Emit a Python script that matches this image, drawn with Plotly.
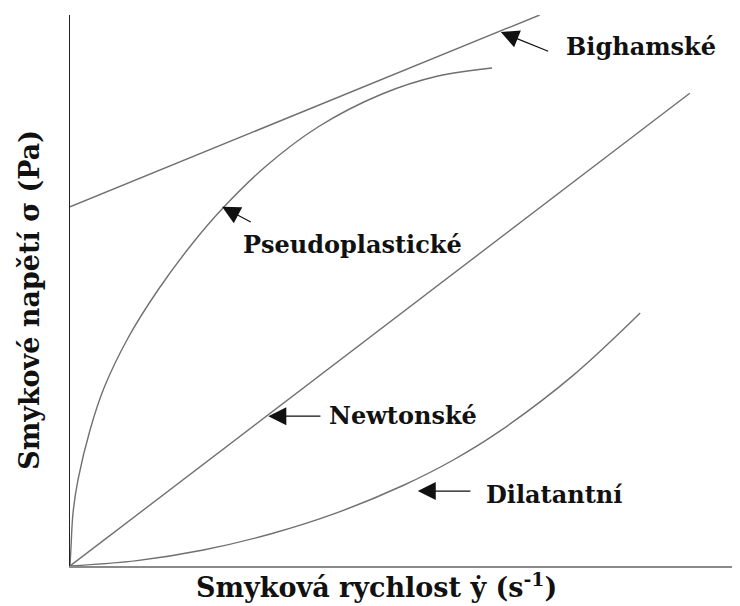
import plotly.graph_objects as go

# Shear rate (x) and shear stress (y) in relative units (0-100)
bingham_x = [0.0, 70.1]
bingham_y = [65.2, 100.0]

pseudo_x = [0.0, 0.15, 0.45, 1.19, 2.99, 5.07, 8.66, 13.13, 18.21, 22.69, 29.10, 37.01, 46.57, 54.93, 62.99]
pseudo_y = [0.0, 3.45, 9.62, 15.61, 24.68, 32.30, 41.38, 50.09, 58.44, 64.79, 72.41, 79.67, 85.66, 88.93, 90.38]

newton_x = [0.0, 92.5]
newton_y = [0.0, 85.8]

dilat_x = [0.0, 10.0, 19.9, 29.9, 39.9, 49.7, 57.2, 64.2, 75.1, 85.1]
dilat_y = [0.0, 0.98, 2.90, 5.81, 9.69, 14.61, 19.24, 24.52, 34.59, 45.90]

labels = ["Bighamské", "Pseudoplastické", "Newtonské", "Dilatantní"]

x_title = "Smyková rychlost ẏ (s<sup>-1</sup>)"
y_title = "Smykové napětí σ (Pa)"

LINE = dict(color="#707070", width=1.4)
SERIF = "DejaVu Serif"

fig = go.Figure()
for xs, ys, shape in [(bingham_x, bingham_y, "linear"),
                      (pseudo_x, pseudo_y, "spline"),
                      (newton_x, newton_y, "linear"),
                      (dilat_x, dilat_y, "spline")]:
    fig.add_trace(go.Scatter(x=xs, y=ys, mode="lines",
                             line=dict(LINE, shape=shape, smoothing=1.0),
                             showlegend=False, hoverinfo="skip"))

# arrows: (tip x, tip y, tail x, tail y)
arrows = [(64.3, 96.9, 71.6, 93.3),
          (22.7, 65.2, 27.2, 62.3),
          (29.6, 27.2, 37.6, 27.2),
          (51.9, 13.6, 60.0, 13.6)]
for tx, ty, sx, sy in arrows:
    fig.add_annotation(x=tx, y=ty, ax=sx, ay=sy, xref="x", yref="y",
                       axref="x", ayref="y", text="", showarrow=True,
                       arrowhead=2, arrowsize=3, arrowwidth=1.2,
                       arrowcolor="#111111")

label_pos = [(85.2, 94.2), (42.1, 58.3), (49.7, 27.4), (72.2, 12.9)]
for (lx, ly), txt in zip(label_pos, labels):
    fig.add_annotation(x=lx, y=ly, xref="x", yref="y", text="<b>" + txt + "</b>",
                       showarrow=False,
                       font=dict(family=SERIF, size=24, color="#111111"))

# axis titles
fig.add_annotation(x=0.457, y=-0.0345, xref="paper", yref="paper",
                   text="<b>" + x_title + "</b>", showarrow=False,
                   xanchor="center", yanchor="middle",
                   font=dict(family=SERIF, size=27, color="#111111"))
fig.add_annotation(x=-0.0597, y=0.483, xref="paper", yref="paper",
                   text="<b>" + y_title + "</b>", showarrow=False, textangle=-90,
                   xanchor="center", yanchor="middle",
                   font=dict(family=SERIF, size=27, color="#111111"))

fig.update_layout(
    width=732, height=598,
    margin=dict(l=62, r=0, t=7, b=40),
    paper_bgcolor="white", plot_bgcolor="white",
    xaxis=dict(range=[0, 100], showgrid=False, zeroline=False,
               showticklabels=False, ticks="", showline=True,
               linecolor="#8a8a8a", linewidth=2),
    yaxis=dict(range=[0, 100], showgrid=False, zeroline=False,
               showticklabels=False, ticks="", showline=True,
               linecolor="#222222", linewidth=1),
)

fig.write_html("out.html")
